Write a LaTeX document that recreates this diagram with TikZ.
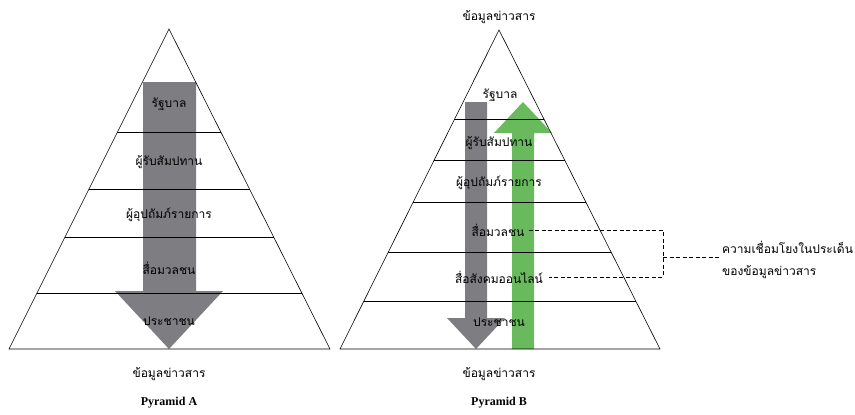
\documentclass[tikz,border=0pt]{standalone}
\usepackage{fontspec}
\setmainfont{Liberation Serif}
\newfontfamily\thaifont[Script=Thai]{Loma}
\usetikzlibrary{calc}
\definecolor{arrowgray}{RGB}{125,125,130}
\definecolor{arrowgreen}{RGB}{104,186,92}
\tikzset{
  lvl/.style={font=\thaifont\fontsize{12}{22}\selectfont, inner sep=1pt},
  layer/.style={line width=1pt},
  edge/.style={line width=0.6pt},
  link/.style={line width=0.9pt, dash pattern=on 4pt off 2.5pt},
  caption/.style={font=\bfseries\fontsize{12}{14}\selectfont}
}
\begin{document}
\begin{tikzpicture}[x=1pt,y=-1pt]
\useasboundingbox (0,0) rectangle (855,415);
% Pyramid A
\coordinate (Atop) at (169,29);
\coordinate (Abl) at (9,349);
\coordinate (Abr) at (330,349);
\fill[arrowgray] (143,82) -- (196,82) -- (196,291) -- (223,291) -- (169,349)
  -- (115,291) -- (143,291) -- cycle;
\draw[edge] (Atop) -- (Abl) -- (Abr) -- cycle;
\foreach \t in {0.322,0.5,0.653,0.828}
  \draw[layer] ($(Atop)!\t!(Abl)$) -- ($(Atop)!\t!(Abr)$);
\node[lvl] (Agov) at (169,104) {รัฐบาล};
\node[lvl] (Acon) at (169,162) {ผู้รับสัมปทาน};
\node[lvl] (Aspo) at (169,215) {ผู้อุปถัมภ์รายการ};
\node[lvl] (Amed) at (169,268) {สื่อมวลชน};
\node[lvl] (Apub) at (169,321) {ประชาชน};
\node[lvl] (Ainfo) at (169,374) {ข้อมูลข่าวสาร};
\node[caption] (Acap) at (169,403) {Pyramid A};
% Pyramid B
\coordinate (Btop) at (499,30);
\coordinate (Bbl) at (340,349);
\coordinate (Bbr) at (660,349);
\fill[arrowgray] (465,102) -- (487,102) -- (487,318) -- (505,318) -- (476,349)
  -- (447,318) -- (465,318) -- cycle;
\fill[arrowgreen] (512,349) -- (534,349) -- (534,133) -- (552,133) -- (523,102)
  -- (494,133) -- (512,133) -- cycle;
\draw[edge] (Btop) -- (Bbl) -- (Bbr) -- cycle;
\foreach \t in {0.282,0.408,0.542,0.696,0.850}
  \draw[layer] ($(Btop)!\t!(Bbl)$) -- ($(Btop)!\t!(Bbr)$);
\node[lvl] (Binfotop) at (499,17) {ข้อมูลข่าวสาร};
\node[lvl] (Bgov) at (500,95) {รัฐบาล};
\node[lvl] (Bcon) at (499,143) {ผู้รับสัมปทาน};
\node[lvl] (Bspo) at (499,183) {ผู้อุปถัมภ์รายการ};
\node[lvl] (Bmed) at (498,230) {สื่อมวลชน};
\node[lvl] (Bsoc) at (499,277) {สื่อสังคมออนไลน์};
\node[lvl] (Bpub) at (499,322) {ประชาชน};
\node[lvl] (Binfo) at (499,374) {ข้อมูลข่าวสาร};
\node[caption] (Bcap) at (499,403) {Pyramid B};
% link label
\coordinate (brk) at (663,257);
\node[lvl, align=left, anchor=west] (note) at (721,260)
  {ความเชื่อมโยงในประเด็น\\ของข้อมูลข่าวสาร};
\draw[link] ([xshift=3pt]Bmed.east) -- (Bmed.east -| brk) -- (Bsoc.east -| brk)
  -- ([xshift=5pt]Bsoc.east);
\draw[link] (brk) -- (brk -| note.west);
\end{tikzpicture}
\end{document}
